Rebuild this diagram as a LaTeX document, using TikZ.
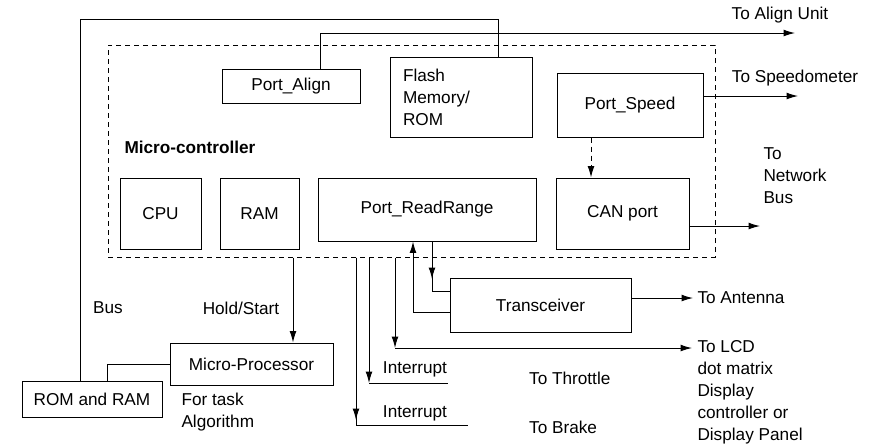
\documentclass[tikz,border=0pt]{standalone}
\usepackage{fontspec}
\setmainfont{Liberation Sans}
\usetikzlibrary{arrows.meta,positioning,calc}

\begin{document}
\begin{tikzpicture}[x=0.5pt,y=-0.5pt,line width=0.5pt,font=\fontsize{8.6}{11}\selectfont,
  >={Latex[length=2mm,width=1.2mm]},
  blk/.style={draw,inner sep=0pt,align=center},
  note/.style={align=left,inner sep=0pt},
  dsh/.style={dash pattern=on 2.5pt off 2pt}]
\useasboundingbox (0,0) rectangle (872,447);
% micro-controller and its blocks
\node[draw,dsh,minimum width=303.5pt,minimum height=106pt] (mcu) at (411.5,151) {};
\node[note,font=\fontsize{8.6}{11}\selectfont\bfseries,anchor=west] (mclbl) at (124,147) {Micro-controller};
\node[blk,minimum width=69pt,minimum height=17pt] (palign) at (291,86) {Port\_Align};
\node[blk,text width=58pt,inner xsep=6.5pt,minimum height=40pt,align=left] (flash) at (461,97) {Flash\\Memory/\\ROM};
\node[blk,minimum width=73pt,minimum height=32pt] (pspeed) at (630,105) {Port\_Speed};
\node[blk,minimum width=40.5pt,minimum height=35.5pt] (cpu) at (160.5,213.5) {CPU};
\node[blk,minimum width=39.5pt,minimum height=35.5pt] (ram) at (259.5,213.5) {RAM};
\node[blk,minimum width=109pt,minimum height=31.5pt] (prr) at (427,209.5) {Port\_ReadRange};
\node[blk,minimum width=66.5pt,minimum height=35.5pt] (can) at (622.5,213.5) {CAN port};
% outside blocks
\node[blk,minimum width=90.5pt,minimum height=27pt] (tr) at (540.5,305) {Transceiver};
\node[blk,minimum width=81.5pt,minimum height=21pt] (mp) at (251.5,364) {Micro-Processor};
\node[blk,minimum width=70pt,minimum height=18pt] (rom) at (92,399) {ROM and RAM};

% bus
\coordinate (busL) at (80,19);
\coordinate (busR) at (498,19);
\draw (rom.north -| busL) -- (busL) -- (busR) -- (busR |- flash.north);
\node (buslbl) at (108,308) {Bus};
% align unit
\coordinate (alignL) at (320,33);
\coordinate (alignE) at (795,33);
\draw[->] (palign.north -| alignL) -- (alignL) -- (alignE);
\node (talign) at (780,15) {To Align Unit};
% speedometer
\coordinate (spdE) at (798,96);
\draw[->] (pspeed.east |- spdE) -- (spdE);
\node (tspd) at (795,78) {To Speedometer};
\coordinate (spdC) at (591,0);
\draw[->,dsh] (pspeed.south -| spdC) -- (can.north -| spdC);
% network bus
\coordinate (netE) at (760,226);
\draw[->] (can.east |- netE) -- (netE);
\node[note,anchor=west] (tnet) at (763,176) {To\\Network\\Bus};
% micro-processor
\coordinate (hs) at (293,0);
\draw[->] (mcu.south -| hs) -- (mp.north -| hs);
\node (hslbl) at (241,308) {Hold/Start};
\coordinate (mpr) at (107,0);
\draw (mp.west) -| (rom.north -| mpr);
\node[note,anchor=north west] (task) at (181,393) {For task\\Algorithm};
% interrupts
\coordinate (brkV) at (356,425);
\coordinate (brkE) at (468,425);
\draw[->] (mcu.south -| brkV) -- ([yshift=2.5pt]brkV);
\draw (mcu.south -| brkV) -- (brkV) -- (brkE);
\node (int2) at (415,413) {Interrupt};
\node[anchor=west] (tbrk) at (522,427) {To Brake};
\coordinate (thrV) at (369,383);
\coordinate (thrE) at (448,383);
\draw[->] (mcu.south -| thrV) -- (thrV);
\draw (thrV) -- (thrE);
\node (int1) at (415,369) {Interrupt};
\node[anchor=west] (tthr) at (522,378) {To Throttle};
% LCD
\coordinate (lcdV) at (395,348);
\coordinate (lcdE) at (692,348);
\draw[->] (mcu.south -| lcdV) -- (lcdV);
\draw[->] (lcdV) -- (lcdE);
\node[note,anchor=north west] (tlcd) at (697,340) {To LCD\\dot matrix\\Display\\controller or\\Display Panel};
% transceiver
\coordinate (rxV) at (432,291);
\draw[->] (prr.south -| rxV) -- ([yshift=6pt]rxV);
\draw (prr.south -| rxV) -- (rxV) -- (tr.west |- rxV);
\coordinate (txV) at (413,312);
\draw[->] (tr.west |- txV) -- (txV) -- (prr.south -| txV);
\coordinate (antE) at (693,298);
\draw[->] (tr.east |- antE) -- (antE);
\node[note,anchor=west] (tant) at (697,298) {To Antenna};
\end{tikzpicture}
\end{document}
